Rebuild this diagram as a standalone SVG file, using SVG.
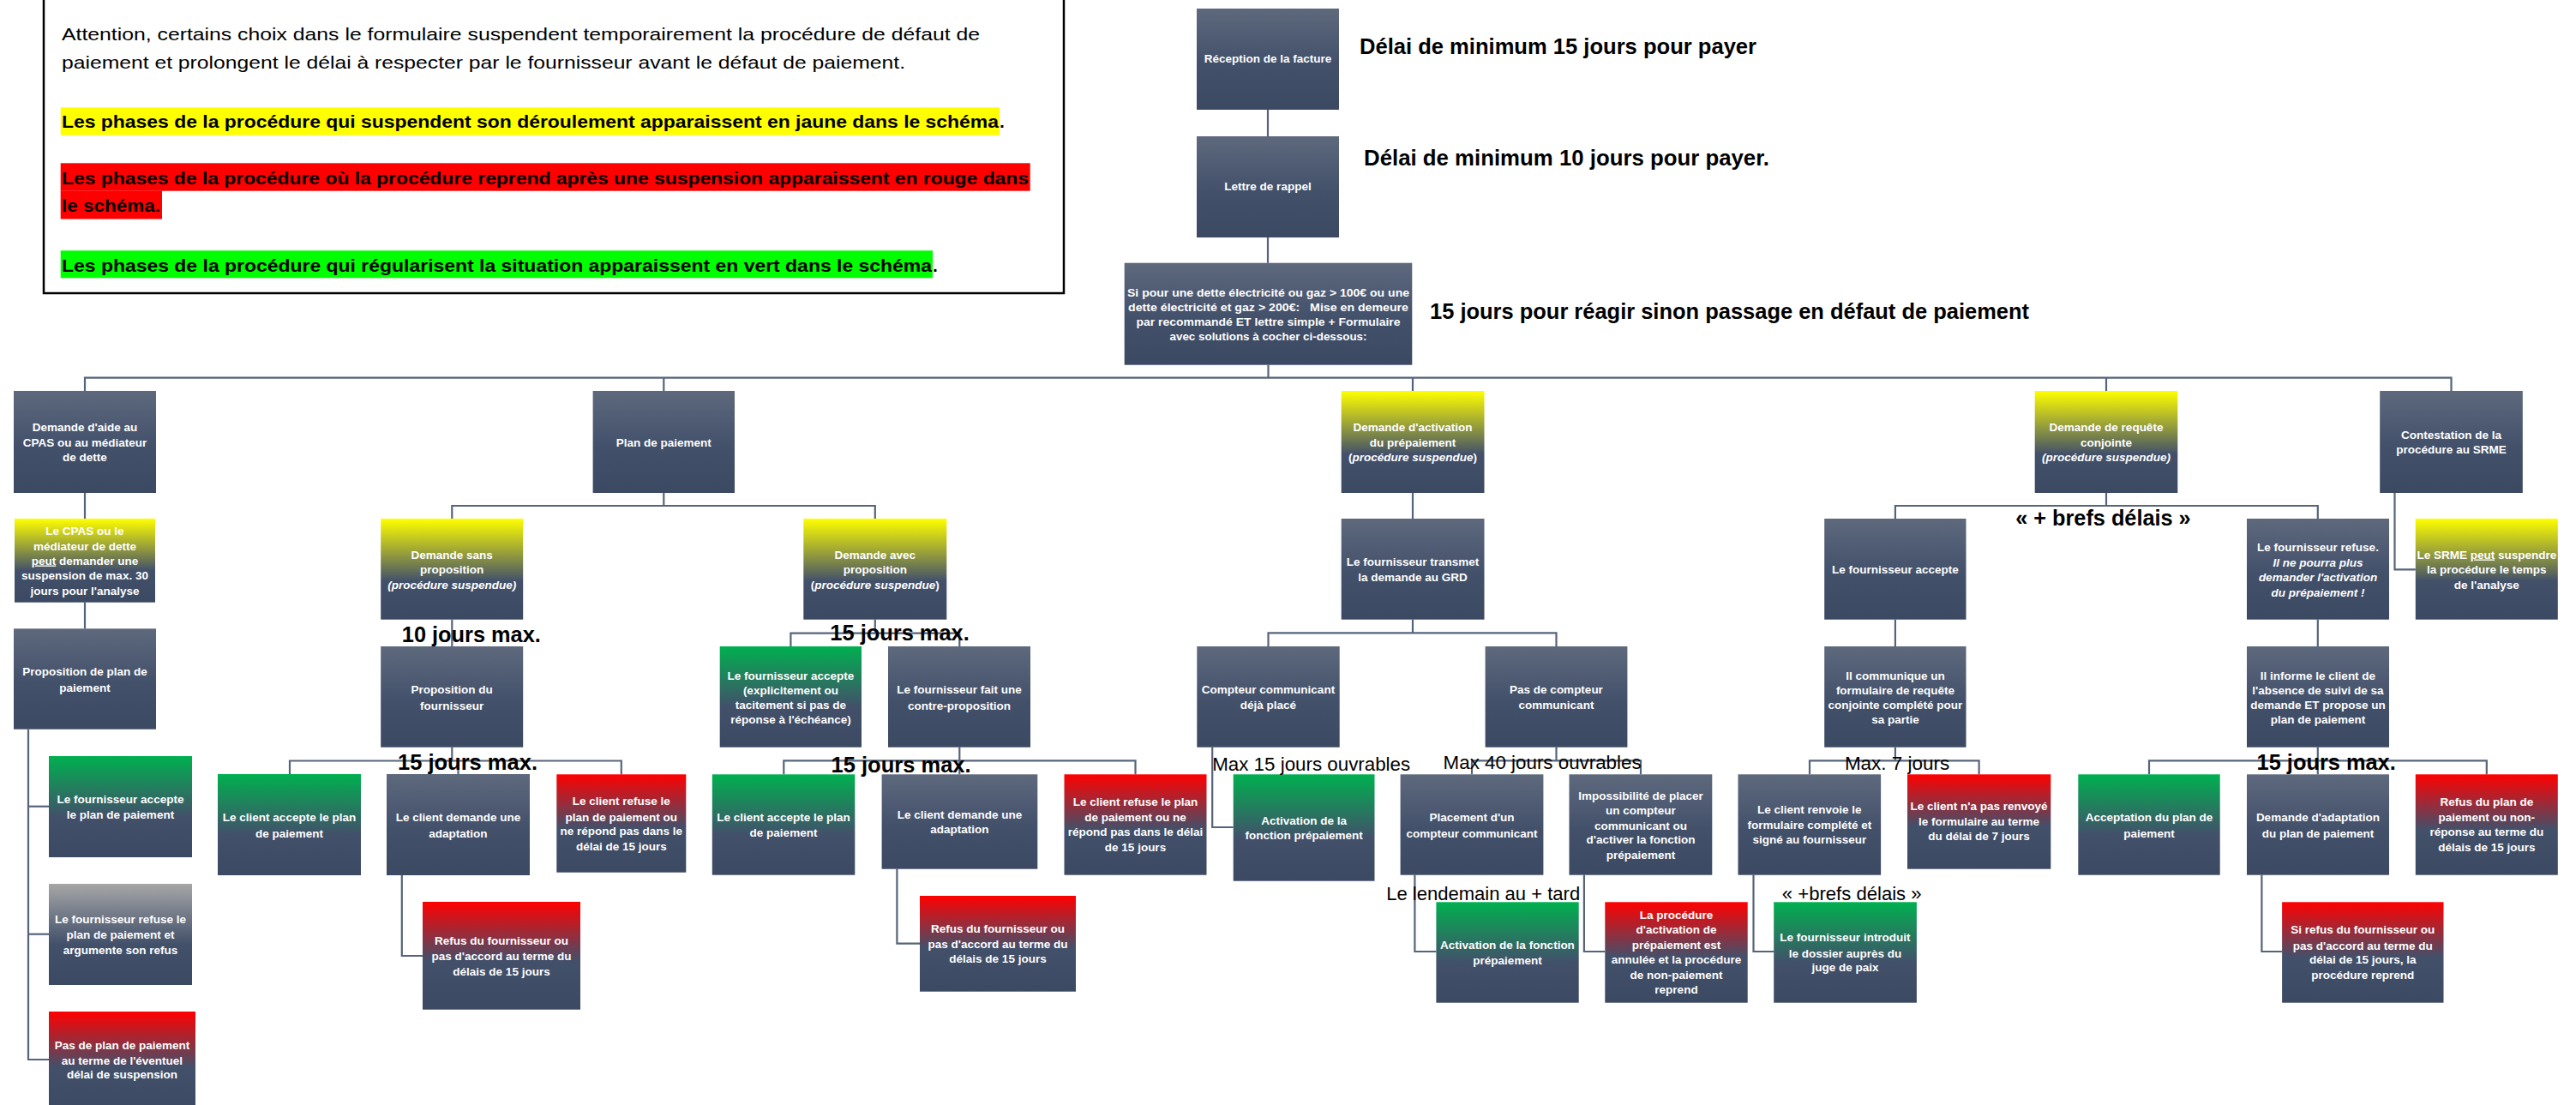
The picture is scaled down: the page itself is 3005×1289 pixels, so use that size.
<svg xmlns="http://www.w3.org/2000/svg" width="3005" height="1289" viewBox="0 0 3005 1289">
<defs>
<linearGradient id="gS" x1="0" y1="0" x2="0" y2="1"><stop offset="0" stop-color="#5e697d"/><stop offset="0.55" stop-color="#42506a"/><stop offset="1" stop-color="#3b4962"/></linearGradient>
<linearGradient id="gY" x1="0" y1="0" x2="0" y2="1"><stop offset="0" stop-color="#ffff00"/><stop offset="0.62" stop-color="#42506a"/><stop offset="1" stop-color="#3b4962"/></linearGradient>
<linearGradient id="gG" x1="0" y1="0" x2="0" y2="1"><stop offset="0" stop-color="#00b050"/><stop offset="0.6" stop-color="#42506a"/><stop offset="1" stop-color="#3b4962"/></linearGradient>
<linearGradient id="gR" x1="0" y1="0" x2="0" y2="1"><stop offset="0" stop-color="#ff0000"/><stop offset="0.55" stop-color="#42506a"/><stop offset="1" stop-color="#3b4962"/></linearGradient>
<linearGradient id="gGr" x1="0" y1="0" x2="0" y2="1"><stop offset="0" stop-color="#a6a6a6"/><stop offset="0.6" stop-color="#42506a"/><stop offset="1" stop-color="#3b4962"/></linearGradient>
</defs>
<style>
text{font-family:"Liberation Sans",Arial,sans-serif;}
.n text{fill:#ffffff;font-size:13.5px;font-weight:bold;text-anchor:middle;}
.s{fill:url(#gS);}
.y{fill:url(#gY);}
.g{fill:url(#gG);}
.r{fill:url(#gR);}
.gr{fill:url(#gGr);}
.it{font-style:italic;}
.u{text-decoration:underline;}
#connectors path{fill:none;stroke:#56647b;stroke-width:2.2;}
.lb{fill:#000;font-size:25px;font-weight:bold;}
.lr{fill:#000;font-size:22px;}
.lg{fill:#000;font-size:21px;}
.lgb{fill:#000;font-size:21px;font-weight:bold;}
</style>
<rect width="3005" height="1289" fill="#ffffff"/>

<g id="legend">
<rect x="51" y="-4" width="1190" height="346" fill="#ffffff" stroke="#000" stroke-width="2.5"/>
<text class="lg" x="72" y="47" textLength="1071" lengthAdjust="spacingAndGlyphs">Attention, certains choix dans le formulaire suspendent temporairement la procédure de défaut de</text>
<text class="lg" x="72" y="79.5" textLength="984" lengthAdjust="spacingAndGlyphs">paiement et prolongent le délai à respecter par le fournisseur avant le défaut de paiement.</text>
<rect x="70.7" y="125.3" width="1095.3" height="32.4" fill="#ffff00"/>
<text class="lgb" x="72" y="149" textLength="1093" lengthAdjust="spacingAndGlyphs">Les phases de la procédure qui suspendent son déroulement apparaissent en jaune dans le schéma</text>
<text class="lgb" x="1166" y="149">.</text>
<rect x="70.7" y="190.3" width="1131" height="32.4" fill="#ff0000"/>
<rect x="70.7" y="222.5" width="118.3" height="33" fill="#ff0000"/>
<text class="lgb" x="72" y="215" textLength="1128" lengthAdjust="spacingAndGlyphs">Les phases de la procédure où la procédure reprend après une suspension apparaissent en rouge dans</text>
<text class="lgb" x="72" y="247.3" textLength="115" lengthAdjust="spacingAndGlyphs">le schéma.</text>
<rect x="70.7" y="292.3" width="1017.3" height="32" fill="#00ff00"/>
<text class="lgb" x="72" y="316.7" textLength="1015" lengthAdjust="spacingAndGlyphs">Les phases de la procédure qui régularisent la situation apparaissent en vert dans le schéma</text>
<text class="lgb" x="1088" y="316.7">.</text>
</g>

<g id="connectors">
<path d="M1479 127.7V159"/>
<path d="M1479 276.7V306.7"/>
<path d="M1479.5 425.7V440.7"/>
<path d="M99 456V440.7H2859.5V456"/>
<path d="M774.3 440.7V456"/>
<path d="M1648 440.7V456"/>
<path d="M2457 440.7V456"/>
<path d="M99 575V605"/>
<path d="M99 702.7V733.3"/>
<path d="M33 850.7V1236H57"/>
<path d="M33 940.7H57"/>
<path d="M33 1089.7H57"/>
<path d="M774.3 575V590"/>
<path d="M527.3 605V590H1020.8V605"/>
<path d="M527.3 722.7V754"/>
<path d="M527.3 871.7V887.5"/>
<path d="M338 903V887.5H724.8V903.3"/>
<path d="M534.5 887.5V903"/>
<path d="M468.8 1021V1115H493"/>
<path d="M1020.8 722.7V738.7"/>
<path d="M922.4 754V738.7H1119.3V754"/>
<path d="M1119.3 871.7V903.3"/>
<path d="M914.3 903.3V887.3H1324.5V903.3"/>
<path d="M1046.4 1013.7V1100.7H1073"/>
<path d="M1648 575V605"/>
<path d="M1648 722.7V738.3"/>
<path d="M1479.5 754V738.3H1815.5V754"/>
<path d="M1414.2 871.7V965H1438.7"/>
<path d="M1815.5 871.7V887.3"/>
<path d="M1717 903.3V887.3H1914V903.3"/>
<path d="M1650.4 1020.7V1110H1675.4"/>
<path d="M1847.9 1020.7V1110H1872.3"/>
<path d="M2457 575V590"/>
<path d="M2210.9 605V590H2703.8V605"/>
<path d="M2210.9 722.7V754"/>
<path d="M2210.9 871.7V887.3"/>
<path d="M2111 903.3V887.3H2308.6V903.3"/>
<path d="M2045.5 1020.7V1110H2069.2"/>
<path d="M2703.8 722.7V754"/>
<path d="M2703.8 871.7V903.3"/>
<path d="M2507 903.3V887.3H2900.8V903.3"/>
<path d="M2638.4 1020.7V1110H2662.1"/>
<path d="M2793.5 575V664.3H2817.8"/>
</g>

<g id="n-reception" class="n"><rect class="s" x="1396" y="10" width="166" height="118"/><text x="1479" y="73">Réception de la facture</text></g>
<g id="n-rappel" class="n"><rect class="s" x="1396" y="159" width="166" height="118"/><text x="1479" y="222">Lettre de rappel</text></g>
<g id="n-demeure" class="n"><rect class="s" x="1311.7" y="306.7" width="335.6" height="119"/>
<text x="1479.5" y="345.5" textLength="329" lengthAdjust="spacingAndGlyphs">Si pour une dette électricité ou gaz &gt; 100€ ou une</text>
<text x="1479.5" y="363" textLength="327" lengthAdjust="spacingAndGlyphs" style="white-space:pre">dette électricité et gaz &gt; 200€:   Mise en demeure</text>
<text x="1479.5" y="380" textLength="308" lengthAdjust="spacingAndGlyphs">par recommandé ET lettre simple + Formulaire</text>
<text x="1479.5" y="397.3" textLength="230" lengthAdjust="spacingAndGlyphs">avec solutions à cocher ci-dessous:</text></g>

<g id="n-cpas" class="n"><rect class="s" x="16" y="456" width="166" height="119"/><text x="99" y="503">Demande d'aide au</text><text x="99" y="520.5">CPAS ou au médiateur</text><text x="99" y="538">de dette</text></g>
<g id="n-cpas-susp" class="n"><rect class="y" x="17" y="605" width="164" height="97.7"/><text x="99" y="624">Le CPAS ou le</text><text x="99" y="641.5">médiateur de dette</text><text x="99" y="658.5"><tspan class="u">peut</tspan> demander une</text><text x="99" y="676">suspension de max. 30</text><text x="99" y="694">jours pour l'analyse</text></g>
<g id="n-prop-plan" class="n"><rect class="s" x="16" y="733.3" width="166" height="117.4"/><text x="99" y="788">Proposition de plan de</text><text x="99" y="806.5">paiement</text></g>
<g id="n-fourn-accepte-plan" class="n"><rect class="g" x="57" y="882" width="167" height="118"/><text x="140.5" y="937">Le fournisseur accepte</text><text x="140.5" y="955">le plan de paiement</text></g>
<g id="n-fourn-refuse-plan" class="n"><rect class="gr" x="57" y="1031" width="167" height="118"/><text x="140.5" y="1077">Le fournisseur refuse le</text><text x="140.5" y="1095">plan de paiement et</text><text x="140.5" y="1112.5">argumente son refus</text></g>
<g id="n-pas-de-plan" class="n"><rect class="r" x="57" y="1180" width="171" height="118"/><text x="142.5" y="1224">Pas de plan de paiement</text><text x="142.5" y="1241.5">au terme de l'éventuel</text><text x="142.5" y="1258">délai de suspension</text></g>

<g id="n-plan" class="n"><rect class="s" x="691.6" y="456" width="165.4" height="119"/><text x="774.3" y="520.5">Plan de paiement</text></g>
<g id="n-sans-prop" class="n"><rect class="y" x="444.2" y="605" width="166" height="117.7"/><text x="527.2" y="651.5">Demande sans</text><text x="527.2" y="669">proposition</text><text x="527.2" y="686.5" class="it">(procédure suspendue)</text></g>
<g id="n-prop-fourn" class="n"><rect class="s" x="444.2" y="754" width="166" height="117.7"/><text x="527.2" y="809">Proposition du</text><text x="527.2" y="827.5">fournisseur</text></g>
<g id="n-client-accepte-1" class="n"><rect class="g" x="254" y="903" width="167" height="118"/><text x="337.5" y="958">Le client accepte le plan</text><text x="337.5" y="976.5">de paiement</text></g>
<g id="n-client-adapt-1" class="n"><rect class="s" x="451" y="903" width="167" height="118"/><text x="534.5" y="958">Le client demande une</text><text x="534.5" y="976.5">adaptation</text></g>
<g id="n-client-refuse-1" class="n"><rect class="r" x="649.3" y="903.3" width="151" height="114.4"/><text x="724.8" y="939">Le client refuse le</text><text x="724.8" y="957.5">plan de paiement ou</text><text x="724.8" y="974">ne répond pas dans le</text><text x="724.8" y="991.5">délai de 15 jours</text></g>
<g id="n-refus-fourn-1" class="n"><rect class="r" x="493" y="1052" width="184" height="125.7"/><text x="585" y="1102">Refus du fournisseur ou</text><text x="585" y="1120">pas d'accord au terme du</text><text x="585" y="1137.5">délais de 15 jours</text></g>
<g id="n-avec-prop" class="n"><rect class="y" x="937.3" y="605" width="167" height="117.7"/><text x="1020.8" y="651.5">Demande avec</text><text x="1020.8" y="669">proposition</text><text x="1020.8" y="686.5">(<tspan class="it">procédure suspendue</tspan>)</text></g>
<g id="n-fourn-accepte-expl" class="n"><rect class="g" x="839.7" y="754" width="165.3" height="117.7"/><text x="922.4" y="792.5">Le fournisseur accepte</text><text x="922.4" y="810">(explicitement ou</text><text x="922.4" y="826.5">tacitement si pas de</text><text x="922.4" y="844">réponse à l'échéance)</text></g>
<g id="n-contre-prop" class="n"><rect class="s" x="1036" y="754" width="166" height="117.7"/><text x="1119" y="809">Le fournisseur fait une</text><text x="1119" y="827.5">contre-proposition</text></g>
<g id="n-client-accepte-2" class="n"><rect class="g" x="830.8" y="903.3" width="166.5" height="117.4"/><text x="914" y="958">Le client accepte le plan</text><text x="914" y="976">de paiement</text></g>
<g id="n-client-adapt-2" class="n"><rect class="s" x="1028.6" y="903.3" width="181.7" height="110.4"/><text x="1119.5" y="955">Le client demande une</text><text x="1119.5" y="972">adaptation</text></g>
<g id="n-client-refuse-2" class="n"><rect class="r" x="1241.5" y="903.3" width="166" height="117.4"/><text x="1324.5" y="940">Le client refuse le plan</text><text x="1324.5" y="958">de paiement ou ne</text><text x="1324.5" y="975">répond pas dans le délai</text><text x="1324.5" y="993">de 15 jours</text></g>
<g id="n-refus-fourn-2" class="n"><rect class="r" x="1073" y="1045" width="182" height="111.7"/><text x="1164" y="1088">Refus du fournisseur ou</text><text x="1164" y="1106">pas d'accord au terme du</text><text x="1164" y="1123">délais de 15 jours</text></g>

<g id="n-activation" class="n"><rect class="y" x="1564.7" y="456" width="166.8" height="119"/><text x="1648" y="503">Demande d'activation</text><text x="1648" y="520.5">du prépaiement</text><text x="1648" y="538">(<tspan class="it">procédure suspendue</tspan>)</text></g>
<g id="n-transmet" class="n"><rect class="s" x="1564.7" y="605" width="166.8" height="117.7"/><text x="1648" y="660">Le fournisseur transmet</text><text x="1648" y="678">la demande au GRD</text></g>
<g id="n-compteur-place" class="n"><rect class="s" x="1396.3" y="754" width="166.4" height="117.7"/><text x="1479.5" y="809">Compteur communicant</text><text x="1479.5" y="827">déjà placé</text></g>
<g id="n-pas-compteur" class="n"><rect class="s" x="1732.6" y="754" width="165.8" height="117.7"/><text x="1815.5" y="809">Pas de compteur</text><text x="1815.5" y="827">communicant</text></g>
<g id="n-activ-fonction-1" class="n"><rect class="g" x="1438.7" y="903.3" width="164.8" height="124.4"/><text x="1521.1" y="962">Activation de la</text><text x="1521.1" y="979">fonction prépaiement</text></g>
<g id="n-placement" class="n"><rect class="s" x="1633.6" y="903.3" width="166.8" height="117.4"/><text x="1717" y="958">Placement d'un</text><text x="1717" y="976.5">compteur communicant</text></g>
<g id="n-impossibilite" class="n"><rect class="s" x="1830.5" y="903.3" width="166.8" height="117.4"/><text x="1914" y="932.5">Impossibilité de placer</text><text x="1914" y="950">un compteur</text><text x="1914" y="967.5">communicant ou</text><text x="1914" y="984">d'activer la fonction</text><text x="1914" y="1002">prépaiement</text></g>
<g id="n-activ-fonction-2" class="n"><rect class="g" x="1675.4" y="1052.3" width="166.3" height="117.4"/><text x="1758.5" y="1107">Activation de la fonction</text><text x="1758.5" y="1125">prépaiement</text></g>
<g id="n-proc-annulee" class="n"><rect class="r" x="1872.3" y="1052.3" width="166.4" height="117.4"/><text x="1955.5" y="1072">La procédure</text><text x="1955.5" y="1089">d'activation de</text><text x="1955.5" y="1107">prépaiement est</text><text x="1955.5" y="1124">annulée et la procédure</text><text x="1955.5" y="1142">de non-paiement</text><text x="1955.5" y="1159">reprend</text></g>

<g id="n-requete" class="n"><rect class="y" x="2373.7" y="456" width="166.6" height="119"/><text x="2457" y="503">Demande de requête</text><text x="2457" y="520.5">conjointe</text><text x="2457" y="538" class="it">(procédure suspendue)</text></g>
<g id="n-fourn-accepte-2" class="n"><rect class="s" x="2128.2" y="605" width="165.3" height="117.7"/><text x="2210.9" y="669">Le fournisseur accepte</text></g>
<g id="n-communique" class="n"><rect class="s" x="2128.2" y="754" width="165.3" height="117.7"/><text x="2210.9" y="792.5">Il communique un</text><text x="2210.9" y="810">formulaire de requête</text><text x="2210.9" y="826.5">conjointe complété pour</text><text x="2210.9" y="844">sa partie</text></g>
<g id="n-renvoie" class="n"><rect class="s" x="2027.5" y="903.3" width="166.6" height="117.4"/><text x="2110.8" y="949">Le client renvoie le</text><text x="2110.8" y="967">formulaire complété et</text><text x="2110.8" y="984">signé au fournisseur</text></g>
<g id="n-pas-renvoye" class="n"><rect class="r" x="2225" y="903.3" width="167.3" height="110.4"/><text x="2308.6" y="945">Le client n'a pas renvoyé</text><text x="2308.6" y="963">le formulaire au terme</text><text x="2308.6" y="980">du délai de 7 jours</text></g>
<g id="n-introduit" class="n"><rect class="g" x="2069.2" y="1052.3" width="166.7" height="117.4"/><text x="2152.5" y="1098">Le fournisseur introduit</text><text x="2152.5" y="1116.5">le dossier auprès du</text><text x="2152.5" y="1133">juge de paix</text></g>
<g id="n-fourn-refuse-2" class="n"><rect class="s" x="2621" y="605" width="166" height="117.7"/><text x="2704" y="643">Le fournisseur refuse.</text><text x="2704" y="660.5" class="it">Il ne pourra plus</text><text x="2704" y="678" class="it">demander l'activation</text><text x="2704" y="695.5" class="it">du prépaiement !</text></g>
<g id="n-informe" class="n"><rect class="s" x="2621" y="754" width="166" height="117.7"/><text x="2704" y="792.5">Il informe le client de</text><text x="2704" y="810">l'absence de suivi de sa</text><text x="2704" y="826.5">demande ET propose un</text><text x="2704" y="844">plan de paiement</text></g>
<g id="n-acceptation" class="n"><rect class="g" x="2424.3" y="903.3" width="165.4" height="117.4"/><text x="2507" y="958">Acceptation du plan de</text><text x="2507" y="976.5">paiement</text></g>
<g id="n-demande-adapt" class="n"><rect class="s" x="2621" y="903.3" width="166" height="117.4"/><text x="2704" y="958">Demande d'adaptation</text><text x="2704" y="976.5">du plan de paiement</text></g>
<g id="n-refus-plan" class="n"><rect class="r" x="2817.8" y="903.3" width="166" height="117.4"/><text x="2900.8" y="940">Refus du plan de</text><text x="2900.8" y="958">paiement ou non-</text><text x="2900.8" y="975">réponse au terme du</text><text x="2900.8" y="993">délais de 15 jours</text></g>
<g id="n-si-refus" class="n"><rect class="r" x="2662.1" y="1052.3" width="188.4" height="117.4"/><text x="2756.3" y="1089">Si refus du fournisseur ou</text><text x="2756.3" y="1107.5">pas d'accord au terme du</text><text x="2756.3" y="1124">délai de 15 jours, la</text><text x="2756.3" y="1142">procédure reprend</text></g>

<g id="n-contestation" class="n"><rect class="s" x="2776.2" y="456" width="166.6" height="119"/><text x="2859.5" y="511.5">Contestation de la</text><text x="2859.5" y="529">procédure au SRME</text></g>
<g id="n-srme" class="n"><rect class="y" x="2817.8" y="605" width="166" height="117.7"/><text x="2900.8" y="651.5">Le SRME <tspan class="u">peut</tspan> suspendre</text><text x="2900.8" y="669">la procédure le temps</text><text x="2900.8" y="686.5">de l'analyse</text></g>

<g id="labels">
<text class="lb" x="1586" y="63.3" textLength="463" lengthAdjust="spacingAndGlyphs">Délai de minimum 15 jours pour payer</text>
<text class="lb" x="1591" y="193.3" textLength="473" lengthAdjust="spacingAndGlyphs">Délai de minimum 10 jours pour payer.</text>
<text class="lb" x="1668" y="371.7" textLength="699" lengthAdjust="spacingAndGlyphs">15 jours pour réagir sinon passage en défaut de paiement</text>
<text class="lb" x="468.8" y="749.3" textLength="162" lengthAdjust="spacingAndGlyphs">10 jours max.</text>
<text class="lb" x="968.3" y="747.3" textLength="162.5" lengthAdjust="spacingAndGlyphs">15 jours max.</text>
<text class="lb" x="464" y="898.3" textLength="163" lengthAdjust="spacingAndGlyphs">15 jours max.</text>
<text class="lb" x="969.6" y="900.7" textLength="163" lengthAdjust="spacingAndGlyphs">15 jours max.</text>
<text class="lr" x="1414.2" y="899" textLength="231" lengthAdjust="spacingAndGlyphs">Max 15 jours ouvrables</text>
<text class="lr" x="1683.6" y="896.7" textLength="231" lengthAdjust="spacingAndGlyphs">Max 40 jours ouvrables</text>
<text class="lr" x="1617.2" y="1050" textLength="226" lengthAdjust="spacingAndGlyphs">Le lendemain au + tard</text>
<text class="lb" x="2351.2" y="612.7" textLength="204.5" lengthAdjust="spacingAndGlyphs">« + brefs délais »</text>
<text class="lr" x="2151.9" y="898.3" textLength="122.4" lengthAdjust="spacingAndGlyphs">Max. 7 jours</text>
<text class="lr" x="2078.8" y="1050" textLength="162.8" lengthAdjust="spacingAndGlyphs">« +brefs délais »</text>
<text class="lb" x="2632.6" y="898.3" textLength="162.2" lengthAdjust="spacingAndGlyphs">15 jours max.</text>
</g>
</svg>
